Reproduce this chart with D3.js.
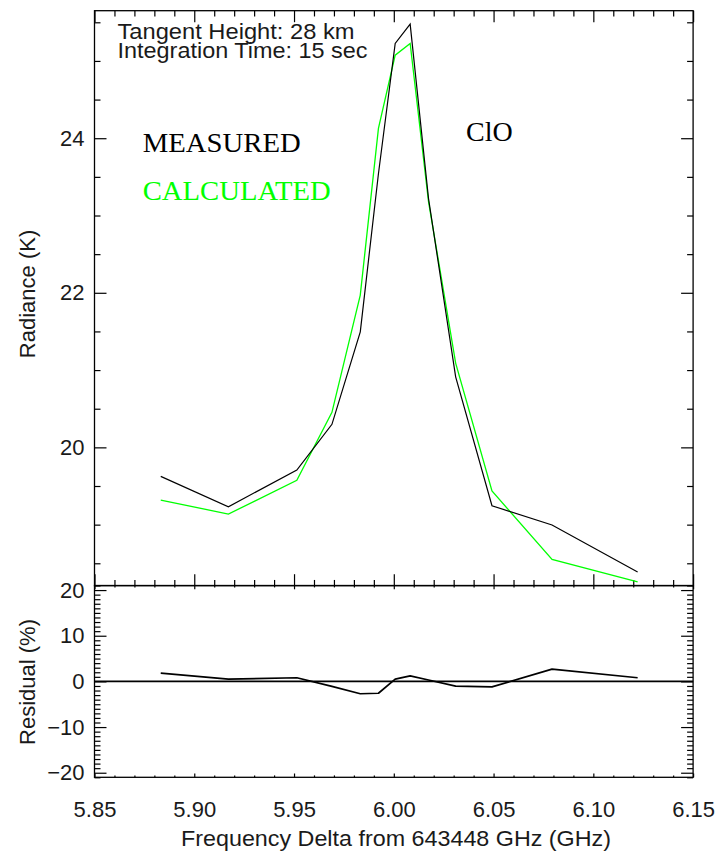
<!DOCTYPE html>
<html>
<head>
<meta charset="utf-8">
<script src="https://cdn.jsdelivr.net/npm/d3@7"></script>
<style>
  html, body { margin: 0; padding: 0; background: #fff; }
  svg { display: block; }
  .sans { font-family: "Liberation Sans", Arial, Helvetica, sans-serif; }
  .serif { font-family: "Liberation Serif", "Times New Roman", serif; }
</style>
</head>
<body>
<svg id="chart" width="719" height="858"></svg>
<script>
// ---- Data ----
const frequency  = [5.8832, 5.9171, 5.9514, 5.9690, 5.9832, 5.9923, 6.0007, 6.0082, 6.0174, 6.0310, 6.0492, 6.0793, 6.1222];
const measured   = [19.625, 19.232, 19.706, 20.298, 21.495, 23.54, 25.226, 25.476, 23.22, 20.913, 19.245, 18.995, 18.387];
const calculated = [19.318, 19.137, 19.573, 20.453, 21.97, 24.127, 25.075, 25.226, 23.18, 21.09, 19.435, 18.551, 18.261];
const residual   = [1.8, 0.5, 0.8, -1.1, -2.7, -2.6, 0.5, 1.2, 0.3, -1.05, -1.2, 2.7, 0.8];

const xTickValues    = [5.85, 5.90, 5.95, 6.00, 6.05, 6.10, 6.15];
const radTickValues  = [20, 22, 24];
const resTickValues  = [-20, -10, 0, 10, 20];

const labels = {
  note1: "Tangent Height: 28 km",
  note2: "Integration Time: 15 sec",
  measured: "MEASURED",
  calculated: "CALCULATED",
  species: "ClO",
  yTop: "Radiance (K)",
  yBottom: "Residual (%)",
  x: "Frequency Delta from 643448 GHz (GHz)"
};

// ---- Layout ----
const L = 94.5, R = 693.1;
const T1 = 10.7, B1 = 585.7;
const T2 = 585.5, B2 = 777.3;

const svg = d3.select("#chart");
svg.append("rect").attr("width", 719).attr("height", 858).attr("fill", "#fff");

const x = d3.scaleLinear().domain([5.85, 6.15]).range([L, R]);
const yTop = d3.scaleLinear().domain([18.21, 25.65]).range([B1, T1]);
const yRes = d3.scaleLinear().domain([-21, 21]).range([B2, T2]);

const xMinor = d3.range(5.85, 6.1501, 0.01).map(v => +v.toFixed(2)).filter(v => !xTickValues.some(t => Math.abs(t - v) < 1e-9));
const radMinor = d3.range(18.5, 25.51, 0.5).filter(v => !radTickValues.includes(v));
const resMinor = d3.range(-21, 21.01, 1).filter(v => !resTickValues.includes(v));

function tickAxis(axisFn, scale, values, size, tx, ty) {
  const g = svg.append("g").attr("transform", `translate(${tx},${ty})`)
    .call(axisFn(scale).tickValues(values).tickSize(size).tickFormat(""));
  g.select(".domain").remove();
  g.selectAll(".tick line").attr("stroke", "#000").attr("stroke-width", 1.2);
  return g;
}

// Top panel ticks
tickAxis(d3.axisBottom, x, xTickValues, -11.5, 0, B1);
tickAxis(d3.axisBottom, x, xMinor, -5.75, 0, B1);
tickAxis(d3.axisTop, x, xTickValues, -11.5, 0, T1);
tickAxis(d3.axisTop, x, xMinor, -5.75, 0, T1);
tickAxis(d3.axisLeft, yTop, radTickValues, -12, L, 0);
tickAxis(d3.axisLeft, yTop, radMinor, -6, L, 0);
tickAxis(d3.axisRight, yTop, radTickValues, -12, R, 0);
tickAxis(d3.axisRight, yTop, radMinor, -6, R, 0);

// Residual panel ticks
tickAxis(d3.axisBottom, x, xTickValues, -3.8, 0, B2);
tickAxis(d3.axisBottom, x, xMinor, -1.9, 0, B2);
tickAxis(d3.axisTop, x, xTickValues, -3.8, 0, T2);
tickAxis(d3.axisTop, x, xMinor, -1.9, 0, T2);
tickAxis(d3.axisLeft, yRes, resTickValues, -12, L, 0);
tickAxis(d3.axisLeft, yRes, resMinor, -6, L, 0);
tickAxis(d3.axisRight, yRes, resTickValues, -12, R, 0);
tickAxis(d3.axisRight, yRes, resMinor, -6, R, 0);

// Borders
svg.append("rect").attr("x", L).attr("y", T1).attr("width", R - L).attr("height", B1 - T1)
  .attr("fill", "none").attr("stroke", "#000").attr("stroke-width", 1.3);
svg.append("rect").attr("x", L).attr("y", T2).attr("width", R - L).attr("height", B2 - T2)
  .attr("fill", "none").attr("stroke", "#000").attr("stroke-width", 1.3);

// Tick labels
function labelAxis(axisFn, scale, values, fmt, pad, tx, ty) {
  const g = svg.append("g").attr("transform", `translate(${tx},${ty})`)
    .call(axisFn(scale).tickValues(values).tickSize(0).tickPadding(pad).tickFormat(fmt));
  g.select(".domain").remove();
  g.selectAll("text").attr("class", "sans").style("font-size", "22px").attr("fill", "#1a1a1a");
  return g;
}
labelAxis(d3.axisBottom, x, xTickValues, d3.format(".2f"), 24, 0, B2);
labelAxis(d3.axisLeft, yTop, radTickValues, d3.format("d"), 10, L, 0);
labelAxis(d3.axisLeft, yRes, resTickValues, d3.format("d"), 10, L, 0);

// Data lines
const lineTop = (vals) => d3.line().x((d, i) => x(frequency[i])).y(d => yTop(d))(vals);
const clipTop = svg.append("clipPath").attr("id", "clipTop").append("rect")
  .attr("x", L).attr("y", T1).attr("width", R - L).attr("height", B1 - T1);

svg.append("path").attr("d", lineTop(calculated)).attr("fill", "none")
  .attr("stroke", "#00ff00").attr("stroke-width", 1.3).attr("stroke-linejoin", "miter");
svg.append("path").attr("d", lineTop(measured)).attr("fill", "none")
  .attr("stroke", "#000").attr("stroke-width", 1.2).attr("stroke-linejoin", "miter");

// Residual
svg.append("line").attr("x1", L).attr("x2", R).attr("y1", yRes(0)).attr("y2", yRes(0))
  .attr("stroke", "#000").attr("stroke-width", 1.6);
const lineRes = d3.line().x((d, i) => x(frequency[i])).y(d => yRes(d));
svg.append("path").attr("d", lineRes(residual)).attr("fill", "none")
  .attr("stroke", "#000").attr("stroke-width", 1.7).attr("stroke-linejoin", "round");

// Texts
svg.append("text").attr("class", "sans").attr("x", 117.5).attr("y", 38.5)
  .style("font-size", "22px").attr("fill", "#1a1a1a")
  .attr("textLength", 237).attr("lengthAdjust", "spacingAndGlyphs").text(labels.note1);
svg.append("text").attr("class", "sans").attr("x", 117.5).attr("y", 57.5)
  .style("font-size", "22px").attr("fill", "#1a1a1a")
  .attr("textLength", 250).attr("lengthAdjust", "spacingAndGlyphs").text(labels.note2);

svg.append("text").attr("class", "serif").attr("x", 142.7).attr("y", 151.7)
  .style("font-size", "28px").attr("fill", "#000")
  .attr("textLength", 158).attr("lengthAdjust", "spacingAndGlyphs").text(labels.measured);
svg.append("text").attr("class", "serif").attr("x", 142.7).attr("y", 200)
  .style("font-size", "28px").attr("fill", "#00ff00")
  .attr("textLength", 188).attr("lengthAdjust", "spacingAndGlyphs").text(labels.calculated);
svg.append("text").attr("class", "serif").attr("x", 466).attr("y", 140.5)
  .style("font-size", "28px").attr("fill", "#000").text(labels.species);

svg.append("text").attr("class", "sans")
  .attr("transform", "translate(34.5,294) rotate(-90)")
  .attr("text-anchor", "middle").style("font-size", "22px").attr("fill", "#1a1a1a")
  .text(labels.yTop);
svg.append("text").attr("class", "sans")
  .attr("transform", "translate(34.5,682) rotate(-90)")
  .attr("text-anchor", "middle").style("font-size", "22px").attr("fill", "#1a1a1a")
  .text(labels.yBottom);

svg.append("text").attr("class", "sans")
  .attr("x", 396).attr("y", 846).attr("text-anchor", "middle")
  .style("font-size", "22px").attr("fill", "#1a1a1a")
  .attr("textLength", 430).attr("lengthAdjust", "spacingAndGlyphs")
  .text(labels.x);
</script>
</body>
</html>
